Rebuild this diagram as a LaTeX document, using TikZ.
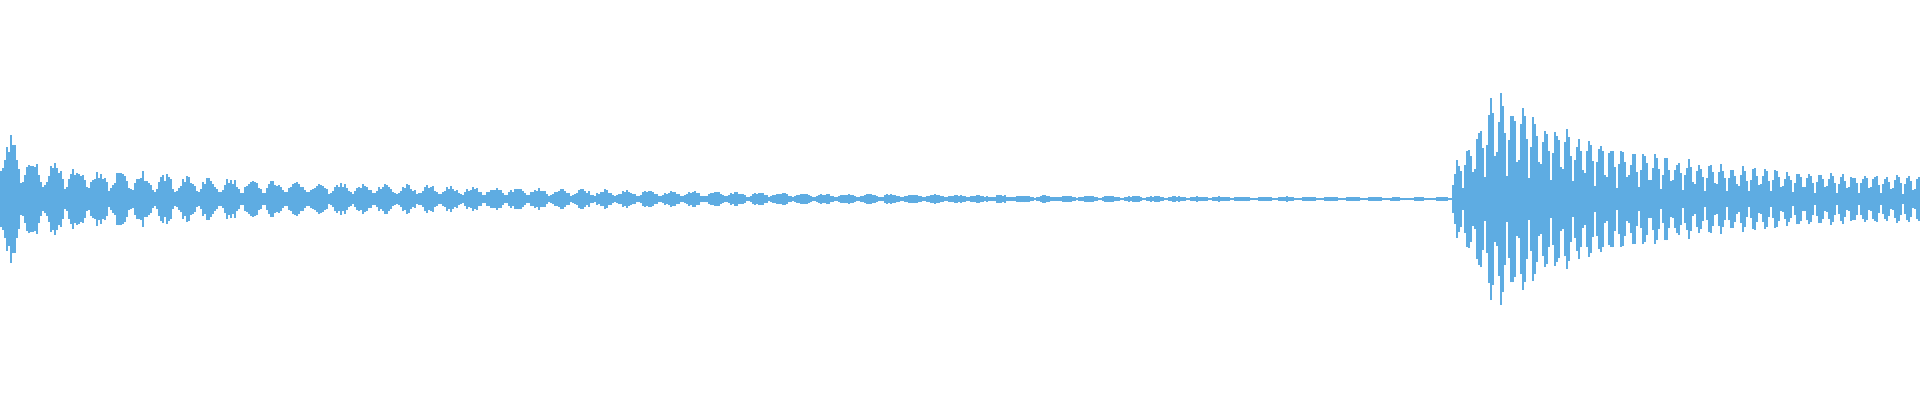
\documentclass[tikz,border=0pt]{standalone}
\begin{document}
\begin{tikzpicture}[x=1pt,y=1pt,wave/.style={draw=waveblue,line width=1.7pt}]
\definecolor{waveblue}{RGB}{94,172,226}
\pgfmathsetseed{7}
\useasboundingbox (0,0) rectangle (1920,400);
\foreach \i in {1,3,...,1919}{
  \ifnum\i<1450
    \ifnum\i<150
      \pgfmathsetmacro{\e}{45*exp(-\i/25)}
    \else
      \def\e{0}
    \fi
    \pgfmathsetmacro{\a}{(\e+38*exp(-\i/430))*(0.25+0.75*abs(sin(180*mod(\i,22)/22)))*(0.65+0.35*rnd)+0.6}
  \else
    \ifnum\i<1452
      \def\a{1}
    \else
      \ifnum\i<1497
        \pgfmathsetmacro{\e}{30+83*(\i-1452)/45}
      \else
        \pgfmathsetmacro{\e}{22+91*exp(-(\i-1497)/120)}
      \fi
      \pgfmathsetmacro{\a}{\e*(0.25+0.75*abs(sin(180*mod(\i-1452,11)/11)))*(0.8+0.2*rnd)}
    \fi
  \fi
  \draw[wave] (\i,201-\a) -- (\i,201+\a);
}
\end{tikzpicture}
\end{document}
